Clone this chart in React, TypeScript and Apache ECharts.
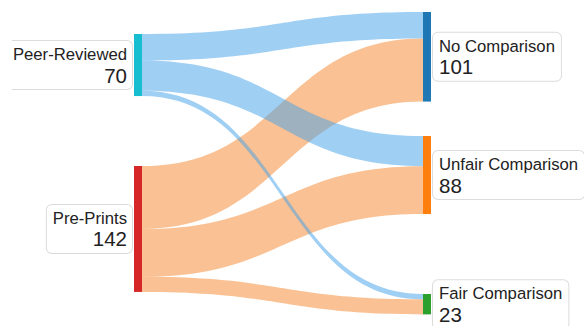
import React, { useEffect, useRef } from "react";
import * as echarts from "echarts";

const sources = ["Peer-Reviewed", "Pre-Prints"];
const sourceValues = [70, 142];
const targets = ["No Comparison", "Unfair Comparison", "Fair Comparison"];
const targetValues = [101, 88, 23];
const peerReviewedFlows = [30, 34, 6];
const prePrintFlows = [71, 54, 17];

const sourceColors = ["#17becf", "#d62728"];
const targetColors = ["#1f77b4", "#ff7f0e", "#2ca02c"];
const linkColors = ["#41a0ea", "#f5852a"];
const sourceLocalY = [0.0728, 0.51];
const targetLocalY = [0, 0.4106, 0.9338];

export default function App() {
  const ref = useRef<HTMLDivElement>(null);
  useEffect(() => {
    if (!ref.current) return;
    const chart = echarts.init(ref.current, null, { renderer: "svg" });
    const font = "Arial, 'Liberation Sans', sans-serif";
    const boxStyle = {
      backgroundColor: "#ffffff",
      borderColor: "#dcdcdc",
      borderWidth: 1,
      borderRadius: 5,
    };
    const nodes: any[] = [];
    sources.forEach((s, i) => {
      nodes.push({
        name: s,
        value: sourceValues[i],
        localX: 0,
        localY: sourceLocalY[i],
        itemStyle: { color: sourceColors[i], borderWidth: 0 },
        label: {
          position: "left",
          distance: 2,
          padding: [4, 5, 3, 6],
          ...boxStyle,
          formatter: "{n|{b}}\n{v|{c}}",
          rich: {
            n: { fontSize: 16.7, lineHeight: 19, align: "right", color: "#222", fontFamily: font },
            v: { fontSize: 20.5, lineHeight: 22, align: "right", color: "#222", fontFamily: font },
          },
        },
      });
    });
    targets.forEach((t, i) => {
      nodes.push({
        name: t,
        value: targetValues[i],
        localX: 289 / 297,
        localY: targetLocalY[i],
        itemStyle: { color: targetColors[i], borderWidth: 0 },
        label: {
          position: "right",
          distance: 2,
          padding: [4, 6, 3, 6],
          ...boxStyle,
          formatter: "{n|{b}}\n{v|{c}}",
          rich: {
            n: { fontSize: 16.7, lineHeight: 19, align: "left", color: "#222", fontFamily: font },
            v: { fontSize: 20.5, lineHeight: 22, align: "left", color: "#222", fontFamily: font },
          },
        },
      });
    });
    const links: any[] = [];
    [prePrintFlows, peerReviewedFlows].forEach((flows, k) => {
      const si = k === 0 ? 1 : 0;
      flows.forEach((v, j) => {
        links.push({
          source: sources[si],
          target: targets[j],
          value: v,
          lineStyle: { color: linkColors[si], opacity: 0.5, curveness: 0.5 },
        });
      });
    });
    chart.setOption({
      animation: false,
      graphic: [
        {
          type: "rect",
          z: 100,
          shape: { x: 0, y: 30, width: 12, height: 70 },
          style: { fill: "#ffffff" },
        },
      ],
      series: [
        {
          type: "sankey",
          left: 134,
          right: 153,
          top: 12,
          bottom: 12,
          nodeWidth: 8,
          nodeGap: 57,
          layoutIterations: 0,
          draggable: false,
          emphasis: { disabled: true },
          data: nodes,
          links: links,
        },
      ],
    });
    return () => chart.dispose();
  }, []);
  return (
    <div
      ref={ref}
      style={{ position: "fixed", left: 0, top: 0, width: 584, height: 326, background: "#fff" }}
    />
  );
}
